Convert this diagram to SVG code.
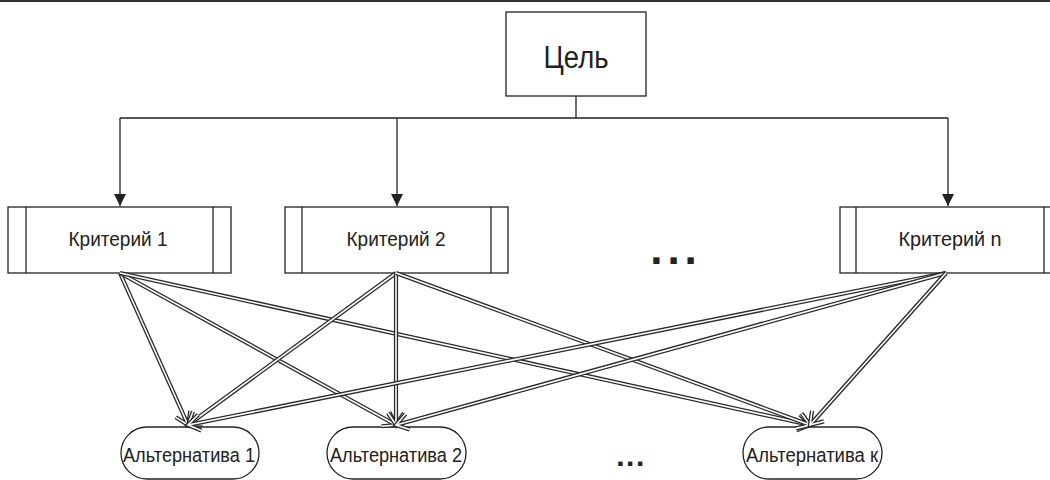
<svg xmlns="http://www.w3.org/2000/svg" width="1050" height="480" viewBox="0 0 1050 480">
<style>
.box{fill:#fff;stroke:#222;stroke-width:1.3}
.tree{fill:none;stroke:#222;stroke-width:1.3}
.t{font-family:"Liberation Sans",Arial,sans-serif;fill:#222;text-anchor:middle}
.o{stroke:#2a2a2a;stroke-width:4.2;fill:none}
.i{stroke:#fff;stroke-width:1.6;fill:none}
</style>
<defs>
<marker id="ah" markerUnits="userSpaceOnUse" markerWidth="12" markerHeight="12" refX="10" refY="5" orient="auto" viewBox="0 0 10 10">
<path d="M0,0 L10,5 L0,10 Z" fill="#222"/>
</marker>
<marker id="mo" markerUnits="userSpaceOnUse" markerWidth="30" markerHeight="30" refX="15" refY="15" orient="auto" viewBox="0 0 30 30" overflow="visible">
<path d="M3,7 L15,15 L3,23" fill="none" stroke="#2a2a2a" stroke-width="4.2" stroke-linejoin="miter"/>
</marker>
<marker id="mi" markerUnits="userSpaceOnUse" markerWidth="30" markerHeight="30" refX="15" refY="15" orient="auto" viewBox="0 0 30 30" overflow="visible">
<path d="M3,7 L15,15 L3,23" fill="none" stroke="#fff" stroke-width="1.6" stroke-linejoin="miter"/>
</marker>
</defs>
<line x1="0" y1="1" x2="1050" y2="1" stroke="#333" stroke-width="2"/>
<g id="goal">
<rect class="box" x="506" y="12" width="140" height="84"/>
<text class="t" x="576" y="68" font-size="31" textLength="65" lengthAdjust="spacingAndGlyphs">Цель</text>
</g>
<g id="crit1">
<rect class="box" x="8" y="207" width="223" height="66"/>
<line class="tree" x1="26" y1="207" x2="26" y2="273"/>
<line class="tree" x1="213" y1="207" x2="213" y2="273"/>
<text class="t" x="118" y="246" font-size="19.5" textLength="99" lengthAdjust="spacingAndGlyphs">Критерий 1</text>
</g>
<g id="crit2">
<rect class="box" x="285" y="207" width="223" height="66"/>
<line class="tree" x1="302" y1="207" x2="302" y2="273"/>
<line class="tree" x1="491" y1="207" x2="491" y2="273"/>
<text class="t" x="396" y="246" font-size="19.5" textLength="99" lengthAdjust="spacingAndGlyphs">Критерий 2</text>
</g>
<g id="critn">
<rect class="box" x="840" y="207" width="223" height="66"/>
<line class="tree" x1="856" y1="207" x2="856" y2="273"/>
<line class="tree" x1="1044" y1="207" x2="1044" y2="273"/>
<text class="t" x="950" y="246" font-size="19.5" textLength="103" lengthAdjust="spacingAndGlyphs">Критерий n</text>
</g>
<g id="dots1">
<text class="t" x="676" y="264" font-size="44" font-weight="bold" letter-spacing="5">...</text>
</g>
<g id="alt1">
<rect class="box" x="121" y="427" width="138" height="52" rx="26" ry="26"/>
<text class="t" x="189" y="462" font-size="19.5" textLength="132" lengthAdjust="spacingAndGlyphs">Альтернатива 1</text>
</g>
<g id="alt2">
<rect class="box" x="327" y="427" width="139" height="52" rx="26" ry="26"/>
<text class="t" x="396" y="462" font-size="19.5" textLength="132" lengthAdjust="spacingAndGlyphs">Альтернатива 2</text>
</g>
<g id="altk">
<rect class="box" x="743" y="427" width="139" height="52" rx="26" ry="26"/>
<text class="t" x="812" y="462" font-size="19.5" textLength="132" lengthAdjust="spacingAndGlyphs">Альтернатива к</text>
</g>
<g id="dots2">
<text class="t" x="631" y="466" font-size="30" font-weight="bold" letter-spacing="1.5">...</text>
</g>
<g id="connectors">
<path class="tree" d="M576,96 V118 M120,118 H948"/>
<line class="tree" x1="120" y1="118" x2="120" y2="206" marker-end="url(#ah)"/>
<line class="tree" x1="397" y1="118" x2="397" y2="206" marker-end="url(#ah)"/>
<line class="tree" x1="948" y1="118" x2="948" y2="206" marker-end="url(#ah)"/>

<line class="o" x1="120" y1="273" x2="188" y2="425" marker-end="url(#mo)"/>
<line class="i" x1="120" y1="273" x2="188" y2="425" marker-end="url(#mi)"/>
<line class="o" x1="120" y1="273" x2="396" y2="425" marker-end="url(#mo)"/>
<line class="i" x1="120" y1="273" x2="396" y2="425" marker-end="url(#mi)"/>
<line class="o" x1="120" y1="273" x2="810" y2="425" marker-end="url(#mo)"/>
<line class="i" x1="120" y1="273" x2="810" y2="425" marker-end="url(#mi)"/>

<line class="o" x1="396" y1="273" x2="188" y2="425" marker-end="url(#mo)"/>
<line class="i" x1="396" y1="273" x2="188" y2="425" marker-end="url(#mi)"/>
<line class="o" x1="396" y1="273" x2="396" y2="425" marker-end="url(#mo)"/>
<line class="i" x1="396" y1="273" x2="396" y2="425" marker-end="url(#mi)"/>
<line class="o" x1="396" y1="273" x2="810" y2="425" marker-end="url(#mo)"/>
<line class="i" x1="396" y1="273" x2="810" y2="425" marker-end="url(#mi)"/>

<line class="o" x1="946" y1="273" x2="188" y2="425" marker-end="url(#mo)"/>
<line class="i" x1="946" y1="273" x2="188" y2="425" marker-end="url(#mi)"/>
<line class="o" x1="946" y1="273" x2="396" y2="425" marker-end="url(#mo)"/>
<line class="i" x1="946" y1="273" x2="396" y2="425" marker-end="url(#mi)"/>
<line class="o" x1="946" y1="273" x2="810" y2="425" marker-end="url(#mo)"/>
<line class="i" x1="946" y1="273" x2="810" y2="425" marker-end="url(#mi)"/>
</g>
</svg>
